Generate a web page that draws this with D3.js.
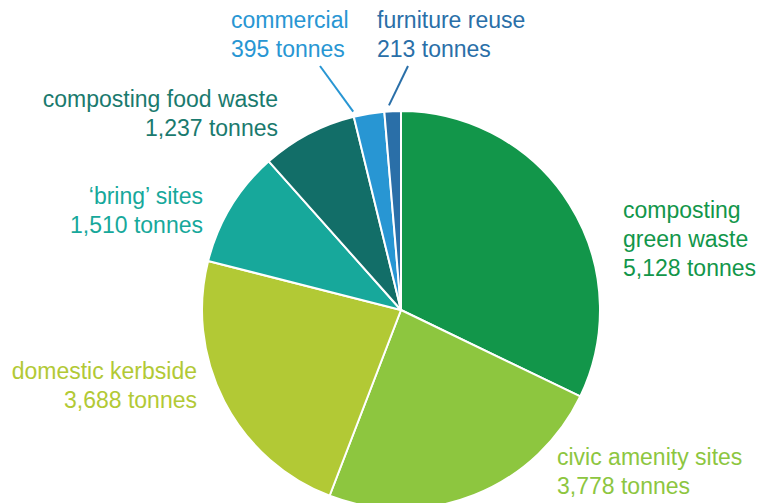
<!DOCTYPE html>
<html><head><meta charset="utf-8">
<script src="https://cdn.jsdelivr.net/npm/d3@7"></script>
<style>
html,body{margin:0;padding:0;background:#fff;}
svg{display:block;}
text{font-family:"Liberation Sans",Arial,sans-serif;}
</style></head>
<body><svg id="chart" width="759" height="503"></svg>
<script>
const categories = ["composting green waste","civic amenity sites","domestic kerbside","\u2018bring\u2019 sites","composting food waste","commercial","furniture reuse"];
const tonnes = [5128, 3778, 3688, 1510, 1237, 395, 213];
const colors = ["#12964a","#8dc63f","#b2c935","#17a89b","#126e68","#2896d3","#2a6fa8"];
const textColors = ["#12964a","#8dc63f","#b2c935","#17a89b","#1a7a6e","#2896d3","#2a6fa8"];

const W = 759, H = 503;
const cx = 401, cy = 310, R = 199;
const fmt = d3.format(",");
const svg = d3.select("#chart");
const g = svg.append("g").attr("transform", `translate(${cx},${cy})`);

const pie = d3.pie().sort(null).value(d => d);
const arcs = pie(tonnes);
const arc = d3.arc().innerRadius(0).outerRadius(R);

g.selectAll("path").data(arcs).join("path")
  .attr("d", arc)
  .attr("fill", (d,i) => colors[i])
  .attr("stroke", "#fff")
  .attr("stroke-width", 2)
  .attr("stroke-linejoin", "round");

// label layout: lines of text, anchor, x, first baseline
const fs = 23, lh = 29;
const layout = [
  {lines:["composting","green waste"], x:623, y:218, anchor:"start"},
  {lines:["civic amenity sites"], x:557, y:465, anchor:"start"},
  {lines:["domestic kerbside"], x:197, y:379, anchor:"end"},
  {lines:[categories[3]], x:203, y:204, anchor:"end"},
  {lines:[categories[4]], x:278, y:107, anchor:"end"},
  {lines:[categories[5]], x:231, y:28, anchor:"start"},
  {lines:[categories[6]], x:377, y:28, anchor:"start"}
];

layout.forEach((L, i) => {
  const t = svg.append("text")
    .attr("x", L.x).attr("y", L.y)
    .attr("text-anchor", L.anchor)
    .attr("fill", textColors[i])
    .attr("font-size", fs);
  const lines = L.lines.concat([fmt(tonnes[i]) + " tonnes"]);
  lines.forEach((s, k) => {
    t.append("tspan").attr("x", L.x).attr("y", L.y + k*lh).text(s);
  });
});

// leader lines for the two small slices
function polar(angle, r) { return [cx + r*Math.sin(angle), cy - r*Math.cos(angle)]; }
const leaders = [
  {i:5, frac:0.02, r1:204, from:[320,66]},
  {i:6, frac:0.3, r1:205, from:[408,66]}
];
leaders.forEach(Ld => {
  const a = arcs[Ld.i];
  const ang = a.startAngle + (a.endAngle - a.startAngle)*Ld.frac;
  const p = polar(ang, Ld.r1);
  svg.append("line")
    .attr("x1", Ld.from[0]).attr("y1", Ld.from[1])
    .attr("x2", p[0]).attr("y2", p[1])
    .attr("stroke", colors[Ld.i]).attr("stroke-width", 2);
});
</script></body></html>
